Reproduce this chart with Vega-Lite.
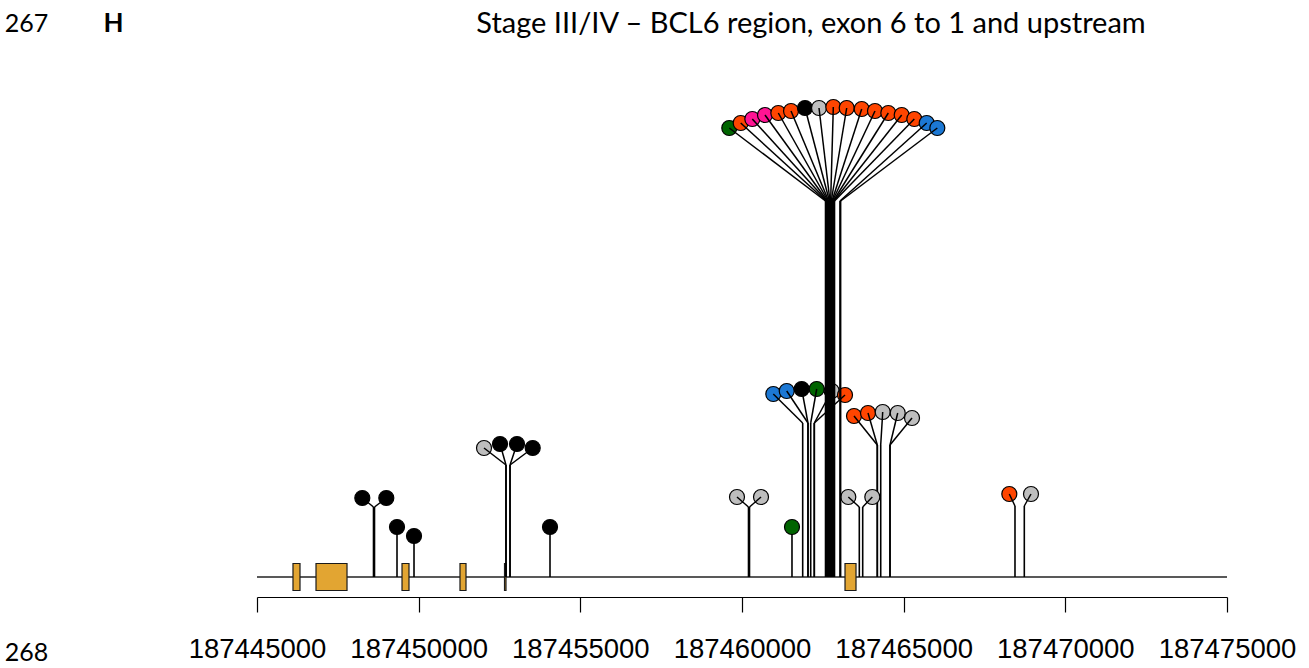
{
  "$schema": "https://vega.github.io/schema/vega-lite/v6.json",
  "width": 970,
  "height": 597,
  "autosize": {"type": "none"},
  "padding": {"left": 257, "right": 82, "top": 0, "bottom": 71},
  "background": "white",
  "config": {"view": {"stroke": null}},
  "datasets": {
    "gene": [{"start": 187445000, "end": 187475000}],
    "exons": [
      {"exon": "e6", "start": 187446113, "end": 187446330},
      {"exon": "e5", "start": 187446825, "end": 187447784},
      {"exon": "e4", "start": 187449485, "end": 187449701},
      {"exon": "e3", "start": 187451278, "end": 187451464},
      {"exon": "e2", "start": 187452655, "end": 187452701},
      {"exon": "e1", "start": 187463186, "end": 187463526}
    ],
    "mutations": [
      {"pos": 187448603, "headPos": 187448257, "stemTop": 0.70, "headY": 0.79, "category": "A"},
      {"pos": 187448634, "headPos": 187448999, "stemTop": 0.70, "headY": 0.79, "category": "A"},
      {"pos": 187449330, "headPos": 187449330, "stemTop": 0.50, "headY": 0.50, "category": "A"},
      {"pos": 187449856, "headPos": 187449856, "stemTop": 0.41, "headY": 0.41, "category": "A"},
      {"pos": 187452701, "headPos": 187452021, "stemTop": 1.12, "headY": 1.29, "category": "B"},
      {"pos": 187452701, "headPos": 187452516, "stemTop": 1.12, "headY": 1.33, "category": "A"},
      {"pos": 187452825, "headPos": 187453041, "stemTop": 1.12, "headY": 1.33, "category": "A"},
      {"pos": 187452825, "headPos": 187453527, "stemTop": 1.12, "headY": 1.29, "category": "A"},
      {"pos": 187454062, "headPos": 187454062, "stemTop": 0.50, "headY": 0.50, "category": "A"},
      {"pos": 187460201, "headPos": 187459845, "stemTop": 0.70, "headY": 0.80, "category": "B"},
      {"pos": 187460232, "headPos": 187460588, "stemTop": 0.70, "headY": 0.80, "category": "B"},
      {"pos": 187461546, "headPos": 187461546, "stemTop": 0.50, "headY": 0.50, "category": "E"},
      {"pos": 187461877, "headPos": 187460968, "stemTop": 1.54, "headY": 1.83, "category": "D"},
      {"pos": 187462041, "headPos": 187461383, "stemTop": 1.54, "headY": 1.86, "category": "D"},
      {"pos": 187462041, "headPos": 187461846, "stemTop": 1.54, "headY": 1.88, "category": "A"},
      {"pos": 187462125, "headPos": 187462310, "stemTop": 1.54, "headY": 1.88, "category": "E"},
      {"pos": 187462236, "headPos": 187462774, "stemTop": 1.54, "headY": 1.86, "category": "B"},
      {"pos": 187462236, "headPos": 187463186, "stemTop": 1.54, "headY": 1.82, "category": "C"},
      {"pos": 187462583, "headPos": 187459607, "stemTop": 3.76, "headY": 4.49, "category": "E"},
      {"pos": 187462601, "headPos": 187459960, "stemTop": 3.76, "headY": 4.54, "category": "C"},
      {"pos": 187462624, "headPos": 187460319, "stemTop": 3.76, "headY": 4.58, "category": "F"},
      {"pos": 187462640, "headPos": 187460711, "stemTop": 3.76, "headY": 4.62, "category": "F"},
      {"pos": 187462663, "headPos": 187461123, "stemTop": 3.76, "headY": 4.64, "category": "C"},
      {"pos": 187462680, "headPos": 187461516, "stemTop": 3.76, "headY": 4.66, "category": "C"},
      {"pos": 187462703, "headPos": 187461949, "stemTop": 3.76, "headY": 4.69, "category": "A"},
      {"pos": 187462720, "headPos": 187462382, "stemTop": 3.76, "headY": 4.69, "category": "B"},
      {"pos": 187462742, "headPos": 187462824, "stemTop": 3.76, "headY": 4.70, "category": "C"},
      {"pos": 187462760, "headPos": 187463238, "stemTop": 3.76, "headY": 4.69, "category": "C"},
      {"pos": 187462783, "headPos": 187463702, "stemTop": 3.76, "headY": 4.68, "category": "C"},
      {"pos": 187462799, "headPos": 187464113, "stemTop": 3.76, "headY": 4.66, "category": "C"},
      {"pos": 187462822, "headPos": 187464525, "stemTop": 3.76, "headY": 4.64, "category": "C"},
      {"pos": 187462840, "headPos": 187464939, "stemTop": 3.76, "headY": 4.62, "category": "C"},
      {"pos": 187462861, "headPos": 187465329, "stemTop": 3.76, "headY": 4.58, "category": "C"},
      {"pos": 187463030, "headPos": 187465712, "stemTop": 3.76, "headY": 4.54, "category": "D"},
      {"pos": 187463050, "headPos": 187466041, "stemTop": 3.76, "headY": 4.49, "category": "D"},
      {"pos": 187463628, "headPos": 187463288, "stemTop": 0.70, "headY": 0.80, "category": "B"},
      {"pos": 187463733, "headPos": 187464030, "stemTop": 0.70, "headY": 0.80, "category": "B"},
      {"pos": 187464185, "headPos": 187463464, "stemTop": 1.32, "headY": 1.61, "category": "C"},
      {"pos": 187464185, "headPos": 187463897, "stemTop": 1.32, "headY": 1.64, "category": "C"},
      {"pos": 187464290, "headPos": 187464352, "stemTop": 1.32, "headY": 1.65, "category": "B"},
      {"pos": 187464577, "headPos": 187464816, "stemTop": 1.32, "headY": 1.64, "category": "B"},
      {"pos": 187464577, "headPos": 187465258, "stemTop": 1.32, "headY": 1.59, "category": "B"},
      {"pos": 187468443, "headPos": 187468267, "stemTop": 0.71, "headY": 0.83, "category": "C"},
      {"pos": 187468731, "headPos": 187468938, "stemTop": 0.71, "headY": 0.83, "category": "B"}
    ],
    "one": [{}]
  },
  "encoding": {
    "x": {
      "type": "quantitative",
      "scale": {"domain": [187445000, 187475000], "nice": false, "zero": false},
      "axis": {
        "values": [187445000, 187450000, 187455000, 187460000, 187465000, 187470000, 187475000],
        "format": "d",
        "title": null,
        "grid": false,
        "domainColor": "black",
        "domainWidth": 1.2,
        "tickColor": "black",
        "tickWidth": 1.2,
        "tickSize": 15,
        "labelFont": "Liberation Sans",
        "labelFontSize": 27.5,
        "labelColor": "black",
        "labelPadding": 23,
        "labelFlush": false,
        "labelOverlap": false,
        "labelBound": false
      }
    },
    "y": {
      "type": "quantitative",
      "scale": {"domain": [-0.2, 5.77], "nice": false, "zero": false},
      "axis": null
    }
  },
  "layer": [
    {
      "data": {"name": "gene"},
      "mark": {"type": "rule", "color": "#222222", "strokeWidth": 1.5},
      "encoding": {
        "x": {"field": "start"},
        "x2": {"field": "end"},
        "y": {"datum": 0}
      }
    },
    {
      "data": {"name": "exons"},
      "mark": {"type": "rect", "fill": "#E2A532", "stroke": "#1a1a1a", "strokeWidth": 1.2},
      "encoding": {
        "x": {"field": "start"},
        "x2": {"field": "end"},
        "y": {"datum": -0.135},
        "y2": {"datum": 0.135}
      }
    },
    {
      "data": {"name": "mutations"},
      "transform": [{"filter": "datum.stemTop < 3"}],
      "mark": {"type": "rule", "color": "black", "strokeWidth": 1.6},
      "encoding": {
        "x": {"field": "pos"},
        "y": {"field": "stemTop"},
        "y2": {"datum": 0}
      }
    },
    {
      "data": {"name": "mutations"},
      "mark": {"type": "point", "shape": "circle", "filled": true, "size": 225, "stroke": "black", "strokeWidth": 1.2, "opacity": 1},
      "encoding": {
        "x": {"field": "headPos"},
        "y": {"field": "headY"},
        "fill": {
          "field": "category",
          "type": "nominal",
          "scale": {
            "domain": ["A", "B", "C", "D", "E", "F"],
            "range": ["#000000", "#BEBEBE", "#FF4500", "#1C78D4", "#006400", "#FF1493"]
          },
          "legend": null
        }
      }
    },
    {
      "data": {"name": "mutations"},
      "transform": [{"filter": "datum.headY != datum.stemTop"}],
      "mark": {"type": "rule", "color": "black", "strokeWidth": 1.5},
      "encoding": {
        "x": {"field": "pos"},
        "y": {"field": "stemTop"},
        "x2": {"field": "headPos"},
        "y2": {"field": "headY"}
      }
    },
    {
      "data": {"name": "mutations"},
      "transform": [{"filter": "datum.stemTop >= 3"}],
      "mark": {"type": "rule", "color": "black", "strokeWidth": 1.6},
      "encoding": {
        "x": {"field": "pos"},
        "y": {"field": "stemTop"},
        "y2": {"datum": 0}
      }
    },
    {
      "data": {"name": "one"},
      "mark": {"type": "text", "text": "267", "font": "Lato", "fontSize": 25, "color": "black", "align": "center", "baseline": "middle"},
      "encoding": {"x": {"datum": 187437870}, "y": {"datum": 5.53}}
    },
    {
      "data": {"name": "one"},
      "mark": {"type": "text", "text": "H", "font": "Lato", "fontSize": 26, "fontWeight": "bold", "color": "black", "align": "center", "baseline": "middle"},
      "encoding": {"x": {"datum": 187440560}, "y": {"datum": 5.53}}
    },
    {
      "data": {"name": "one"},
      "mark": {"type": "text", "text": "Stage III/IV – BCL6 region, exon 6 to 1 and upstream", "font": "Lato", "fontSize": 29, "color": "black", "align": "center", "baseline": "middle"},
      "encoding": {"x": {"datum": 187462135}, "y": {"datum": 5.53}}
    },
    {
      "data": {"name": "one"},
      "mark": {"type": "text", "text": "268", "font": "Lato", "fontSize": 25, "color": "black", "align": "center", "baseline": "middle"},
      "encoding": {"x": {"datum": 187437870}, "y": {"datum": -0.76}}
    }
  ]
}
